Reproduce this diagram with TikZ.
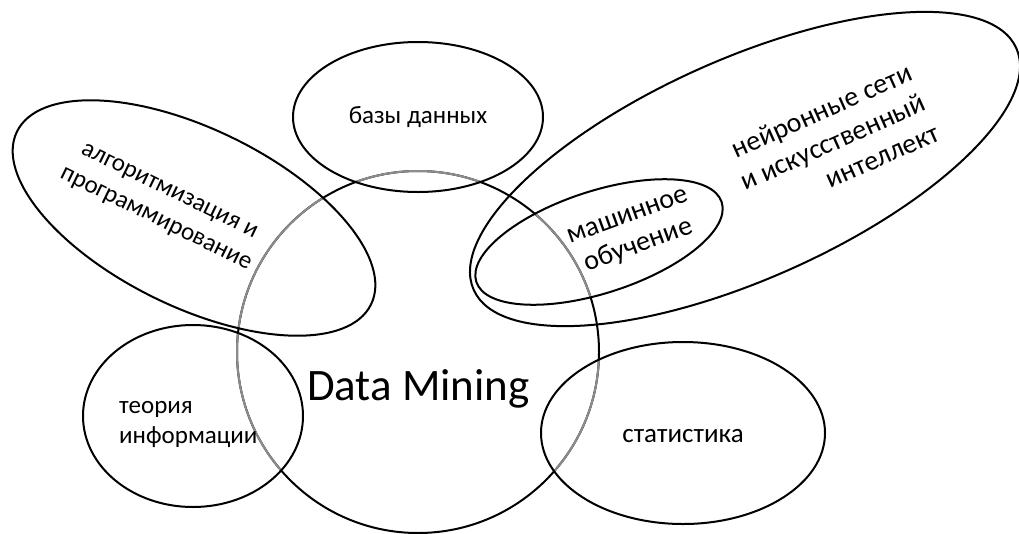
\documentclass[tikz,border=0pt]{standalone}
\usepackage{fontspec}
\setmainfont{Carlito}
\definecolor{fadegray}{RGB}{140,140,140}

% outlines of the fields round Data Mining
\newcommand{\dmcircle}{(418,352) circle [radius=181]}
\newcommand{\basesarea}{(418,117) ellipse [x radius=125, y radius=75]}
\newcommand{\algoarea}{(194,218) ellipse [x radius=197, y radius=89, rotate=-26]}
\newcommand{\infoarea}{(193,416) ellipse [x radius=110, y radius=91]}
\newcommand{\statarea}{(683,433) ellipse [x radius=142, y radius=91]}
\newcommand{\mlarea}{(599,242) ellipse [x radius=129, y radius=51, rotate=18]}
\newcommand{\nnarea}{(745,169) ellipse [x radius=297, y radius=110, rotate=24]}

\begin{document}
\begin{tikzpicture}[x=1pt, y=-1pt,
    field/.style={line width=2pt},
    fieldtext/.style={font=\fontsize{25}{28}\selectfont, inner sep=0pt},
    bigtext/.style={font=\fontsize{28}{30}\selectfont, inner sep=0pt}]
    \useasboundingbox[fill=white] (0,0) rectangle (1019,533);

    % Data Mining circle, greyed where a field lies over it
    \draw[field] \dmcircle;
    \foreach \area in {\basesarea,\algoarea,\infoarea,\statarea,\mlarea}{
        \begin{scope}
            \clip \area;
            \draw[field, fadegray] \dmcircle;
        \end{scope}
    }

    % Fields
    \draw[field] \nnarea;
    \draw[field] \basesarea;
    \draw[field] \algoarea;
    \draw[field] \infoarea;
    \draw[field] \statarea;
    \draw[field] \mlarea;

    % Labels
    \node[font=\fontsize{45}{50}\selectfont, inner sep=0pt, anchor=base] (dm) at (418.5,400) {Data Mining};
    \node[fieldtext, anchor=base] (bases) at (418,123) {базы данных};
    \node[fieldtext, font=\fontsize{27}{30}\selectfont, anchor=base] (stat) at (683,442) {статистика};
    \node[fieldtext, align=left, anchor=west] (info) at (119,424) {теория\\[2pt]информации};
    \node[fieldtext, align=center, rotate=-26] (algo) at (162,206) {алгоритмизация и\\[3pt]программирование};
    \node[bigtext, align=center, rotate=20] (ml) at (634,233) {машинное\\[2pt]обучение};
    \node[bigtext, align=right, anchor=east, rotate=24] (nn) at (924,101) {нейронные сети\\[3pt]и искусственный\\[3pt]интеллект};
\end{tikzpicture}
\end{document}
